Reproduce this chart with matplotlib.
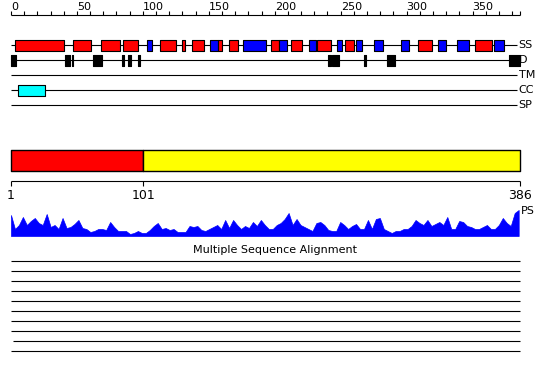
import matplotlib
matplotlib.use('Agg')
import matplotlib.pyplot as plt

seq_len = 386

# secondary structure: H = helix (red), E = strand (blue)
ss_start = [3, 47, 68, 85, 103, 113, 130, 137, 151, 157, 165, 176, 197, 203,
            212, 226, 232, 247, 253, 262, 275, 296, 309, 324, 338, 352, 366]
ss_end = [40, 61, 83, 96, 107, 125, 132, 146, 157, 160, 172, 193, 203, 209,
          221, 231, 243, 251, 260, 266, 282, 302, 319, 330, 347, 365, 374]
ss_type = ['H', 'H', 'H', 'H', 'E', 'H', 'H', 'H', 'E', 'H', 'H', 'E', 'H', 'E',
           'H', 'E', 'H', 'E', 'H', 'E', 'E', 'E', 'H', 'E', 'E', 'H', 'E']

# disordered regions
dis_start = [0, 41, 46, 62, 84, 89, 96, 240.5, 243.5, 268, 285, 378]
dis_end = [3.5, 45, 47, 69, 86, 91, 98, 243, 248.5, 269, 291, 386]

# coiled coil
cc_start = [5]
cc_end = [26]

# domains
dom_bounds = [1, 101, 386]
dom_colors = ['#ff0000', '#ffff00']

track_names = ['SS', 'D', 'TM', 'CC', 'SP']

# PS profile, every 3 residues from 1
ps_pos = list(range(1, 386, 3))
ps_val = [21, 7, 11, 19, 11, 15, 18, 13, 11, 22, 9, 11, 7, 18, 8, 9, 12, 16, 8, 7,
          4, 5, 7, 7, 6, 14, 9, 5, 5, 5, 2, 3, 5,
          3, 3, 6, 10, 13, 7, 8, 6, 7, 4, 4, 4, 10, 9, 10, 6, 5, 7, 9, 11, 7, 16,
          8, 16, 11, 7, 10, 8, 14, 10, 16, 11,
          7, 7, 11, 13, 17, 23, 11, 17, 11, 9, 7, 5, 13, 14, 11, 6, 5, 5, 14, 11,
          7, 10, 12, 7, 7, 16, 7, 17, 18, 7, 5, 3,
          5, 5, 7, 7, 10, 16, 13, 11, 16, 10, 12, 14, 11, 19, 7, 7, 15, 14, 10, 9,
          7, 7, 9, 11, 7, 7, 11, 18, 13, 10, 23, 26]

n_msa = 10

W, H = 550, 380
left_px, right_px = 11, 520
lw = 0.8

fig = plt.figure(figsize=(W / 100, H / 100), dpi=100)

# top axes: 0-based positions, y in pixel rows
s = (right_px - left_px) / seq_len
ax = fig.add_axes([0, 0, 1, 1])
ax.set_xlim(-left_px / s, (W - left_px) / s)
ax.set_ylim(H, 0)
ax.axis('off')

# ruler
ax.hlines(15, 0, seq_len, color='black', lw=lw)
ticks = list(range(0, seq_len, 10)) + [seq_len]
ax.vlines(ticks, 11, 15, color='black', lw=lw)
for t in range(0, seq_len, 50):
    ax.text(t, 10.5, str(t), ha='left', va='baseline', fontsize=8)

rows = [45, 60, 75, 90, 105]
for y, name in zip(rows, track_names):
    ax.hlines(y, 0, 384, color='black', lw=lw, zorder=1)
    ax.text(385, y, name, ha='left', va='center', fontsize=8)

ss_colors = ['#ff0000' if t == 'H' else '#0000ff' for t in ss_type]
ax.broken_barh([(a, b - a) for a, b in zip(ss_start, ss_end)], (40, 10.5),
               facecolors=ss_colors, edgecolor='black', lw=lw, zorder=2)
ax.broken_barh([(a, b - a) for a, b in zip(dis_start, dis_end)], (54.5, 11),
               facecolors='black', edgecolor='black', lw=lw, zorder=2)
ax.broken_barh([(a, b - a) for a, b in zip(cc_start, cc_end)], (85, 10.5),
               facecolors='#00ffff', edgecolor='black', lw=lw, zorder=2)

# multiple sequence alignment
ax.text(200, 250, 'Multiple Sequence Alignment', ha='center', va='center', fontsize=8)
for i in range(n_msa):
    ax.hlines(261 + i * 10, 1.5 if i == 8 else 0, seq_len, color='black', lw=lw)

# bottom axes: 1-based positions for domains
s2 = (right_px - left_px) / (seq_len - 1)
ax2 = fig.add_axes([0, 0, 1, 1])
ax2.set_xlim(1 - left_px / s2, 1 + (W - left_px) / s2)
ax2.set_ylim(H, 0)
ax2.axis('off')
ax2.patch.set_alpha(0)

ax2.broken_barh([(dom_bounds[i], dom_bounds[i + 1] - dom_bounds[i]) for i in range(len(dom_colors))],
                (150, 21), facecolors=dom_colors, edgecolor='black', lw=1)
ax2.hlines(181, 1, seq_len, color='black', lw=lw)
ax2.vlines(dom_bounds, 181, 186, color='black', lw=lw)
for b in dom_bounds:
    ax2.text(b, 189, str(b), ha='center', va='top', fontsize=9)
ax2.text(seq_len + 0.5, 211, 'PS', ha='left', va='center', fontsize=8)

# PS profile
ax_ps = fig.add_axes([left_px / W, (H - 236) / H, (right_px - left_px) / W, 27 / H])
ax_ps.fill_between(ps_pos, ps_val, 0, color='#0000ff', lw=0.5)
ax_ps.set_xlim(1, seq_len)
ax_ps.set_ylim(0, 27)
ax_ps.axis('off')

plt.savefig('out.png', dpi=100)
